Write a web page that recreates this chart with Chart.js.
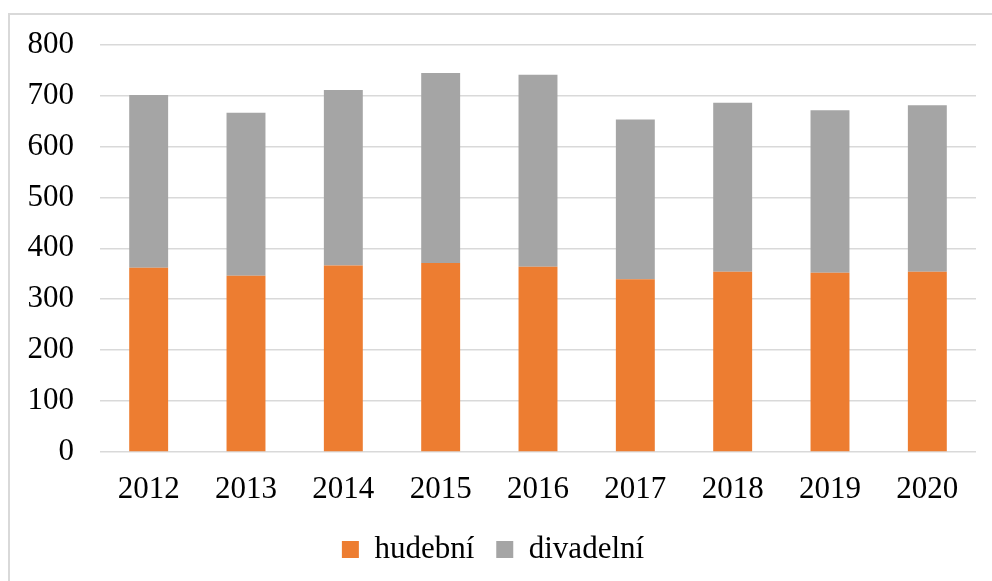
<!DOCTYPE html>
<html>
<head>
<meta charset="utf-8">
<script src="https://cdn.jsdelivr.net/npm/chart.js@4"></script>
<style>
    body { margin: 0; background: #fff; }
    #wrap { position: relative; width: 992px; height: 581px; overflow: hidden; }
    #frame { position: absolute; left: 8px; top: 13px; width: 1000px; height: 600px; border: 2px solid #d9d9d9; }
    #chart { position: absolute; left: 0; top: 0; }
</style>
</head>
<body>
<div id="wrap">
    <div id="frame"></div>
    <canvas id="chart" width="992" height="581"></canvas>
</div>
<script>
    const years = ["2012", "2013", "2014", "2015", "2016", "2017", "2018", "2019", "2020"];
    const hudebni = [362, 346, 366, 371, 364, 339, 354, 352, 354];
    const divadelni = [339, 320, 345, 373, 377, 314, 332, 319, 327];

    const font = { family: "'Liberation Serif', 'Times New Roman', serif", size: 31 };

    new Chart(document.getElementById("chart"), {
        type: "bar",
        data: {
            labels: years,
            datasets: [
                { label: "hudební", data: hudebni, backgroundColor: "#ED7D31" },
                { label: "divadelní", data: divadelni, backgroundColor: "#A5A5A5" }
            ]
        },
        options: {
            responsive: false,
            animation: false,
            layout: { padding: { left: 10, top: 44, right: 16, bottom: 6 } },
            datasets: { bar: { categoryPercentage: 1, barPercentage: 0.4 } },
            scales: {
                x: {
                    stacked: true,
                    grid: { display: false, drawTicks: false },
                    border: { display: false },
                    ticks: { color: "#000", font: font, padding: 19 },
                    afterFit: s => { s.height = 60; }
                },
                y: {
                    stacked: true,
                    min: 0,
                    max: 800,
                    grid: { color: "#d9d9d9", lineWidth: 1.5, drawTicks: false },
                    border: { display: false },
                    ticks: { stepSize: 100, color: "#000", font: font, padding: 26 },
                    afterFit: s => { s.width = 90; }
                }
            },
            plugins: {
                legend: {
                    position: "bottom",
                    labels: { color: "#000", font: font, boxWidth: 17, boxHeight: 17, padding: 22 }
                },
                tooltip: { enabled: false }
            }
        }
    });
</script>
</body>
</html>
